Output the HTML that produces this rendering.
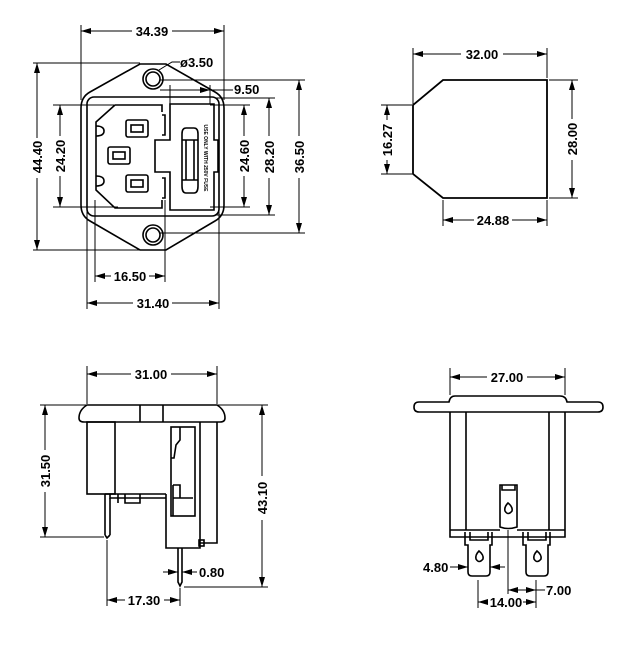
<!DOCTYPE html>
<html><head><meta charset="utf-8"><style>
html,body{margin:0;padding:0;background:#fff;}
svg{display:block;}
text{font-family:"Liberation Sans",sans-serif;font-size:13px;font-weight:bold;fill:#000;}
</style></head><body>
<svg width="640" height="652" viewBox="0 0 640 652" xmlns="http://www.w3.org/2000/svg">
<defs>
<marker id="a" viewBox="0 0 10 6" refX="10" refY="3" markerWidth="10" markerHeight="6" orient="auto-start-reverse" markerUnits="userSpaceOnUse"><path d="M0,0L10,3L0,6z" fill="#000"/></marker>
</defs>
<g fill="none" stroke="#000" stroke-width="1.6">
<!-- ===== TOP LEFT ===== -->
<path d="M140,64 L166,64 L215,92 Q224,97 224,108 L224,205 Q224,216 215,221 L166,250 L140,250 L90,221 Q81,216 81,205 L81,108 Q81,97 90,92 Z"/>
<circle cx="153" cy="79" r="10"/><circle cx="153" cy="79" r="7"/>
<circle cx="153" cy="235" r="10"/><circle cx="153" cy="235" r="7"/>
<rect x="87" y="97" width="132" height="119" rx="7"/>
<path d="M115,105 L162,105 L162,112 M115,105 L96,122 L96,190 L115,208 L162,208 L162,200"/>
<path d="M96,126 Q104,126 104,131 Q104,136 96,136 M96,176 Q104,176 104,181 Q104,186 96,186"/>
<path d="M162,115 L165,115 L165,135 L162,135 M162,178 L165,178 L165,198 L162,198"/>
<rect x="126" y="120" width="22" height="17" rx="2"/><rect x="131" y="125" width="12" height="7"/>
<rect x="108" y="147" width="22" height="17" rx="2"/><rect x="113" y="152" width="12" height="7"/>
<rect x="126" y="175" width="22" height="17" rx="2"/><rect x="131" y="180" width="12" height="7"/>
<path d="M170,104 L214,104 L214,140 L218,140 L218,172 L214,172 L214,210 L170,210 L170,172 L155,172 L155,140 L170,140 Z"/>
<path d="M186,128 L194,128 Q198,128 198,134 L198,186 Q198,193 194,193 L186,193 Q182,193 182,186 L182,134 Q182,128 186,128 Z"/>
<path d="M182,140 L198,140 M182,180 L198,180 M186,140 L186,180 M194,140 L194,180"/>
</g>
<text transform="translate(204,158) rotate(90)" text-anchor="middle" style="font-size:5px;font-weight:bold">USE ONLY WITH 250V FUSE</text>
<g fill="none" stroke="#000" stroke-width="1">
<path d="M81,25 L81,100 M224,25 L224,100"/>
<path d="M33,63 L140,63 M33,250 L140,250"/>
<path d="M53,105 L118,105 M53,207 L118,207"/>
<path d="M95,200 L95,282 M165,200 L165,282 M87,210 L87,309 M219,210 L219,309"/>
<path d="M160,90 L233,90 M170,85 L170,104 M210,85 L210,104"/>
<path d="M210,105 L250,105 M210,207 L250,207 M215,98 L275,98 M215,215 L275,215 M160,80 L305,80 M160,233 L305,233"/>
<path d="M159,70 L172,62 L180,62"/>
<path d="M81,31 L132,31 M172,31 L224,31" marker-start="url(#a)" marker-end="url(#a)"/>
<path d="M37,63 L37,138 M37,178 L37,250" marker-start="url(#a)" marker-end="url(#a)"/>
<path d="M60,105 L60,136 M60,176 L60,207" marker-start="url(#a)" marker-end="url(#a)"/>
<path d="M95,276 L111,276 M149,276 L165,276" marker-start="url(#a)" marker-end="url(#a)"/>
<path d="M87,303 L133,303 M172,303 L219,303" marker-start="url(#a)" marker-end="url(#a)"/>
<path d="M170,90 L210,90" marker-end="url(#a)"/>
<path d="M244,105 L244,136 M244,176 L244,207" marker-start="url(#a)" marker-end="url(#a)"/>
<path d="M269,98 L269,136 M269,178 L269,215" marker-start="url(#a)" marker-end="url(#a)"/>
<path d="M299,80 L299,136 M299,178 L299,233" marker-start="url(#a)" marker-end="url(#a)"/>
</g>
<text x="152" y="36" text-anchor="middle">34.39</text>
<text x="180" y="67">ø3.50</text>
<text x="234" y="94">9.50</text>
<text x="130" y="281" text-anchor="middle">16.50</text>
<text x="153" y="308" text-anchor="middle">31.40</text>
<text transform="translate(42,157) rotate(-90)" text-anchor="middle">44.40</text>
<text transform="translate(65,156) rotate(-90)" text-anchor="middle">24.20</text>
<text transform="translate(249,156) rotate(-90)" text-anchor="middle">24.60</text>
<text transform="translate(274,157) rotate(-90)" text-anchor="middle">28.20</text>
<text transform="translate(304,157) rotate(-90)" text-anchor="middle">36.50</text>

<!-- ===== TOP RIGHT ===== -->
<path d="M443,80 L547,80 L547,198 L443,198 L413,174 L413,105 Z" fill="none" stroke="#000" stroke-width="1.8"/>
<g fill="none" stroke="#000" stroke-width="1">
<path d="M413,48 L413,104 M547,48 L547,78 M547,200 L547,226 M443,200 L443,226"/>
<path d="M381,105 L412,105 M381,174 L412,174 M549,80 L578,80 M549,198 L578,198"/>
<path d="M413,54 L461,54 M503,54 L547,54" marker-start="url(#a)" marker-end="url(#a)"/>
<path d="M387,105 L387,120 M387,160 L387,174" marker-start="url(#a)" marker-end="url(#a)"/>
<path d="M572,80 L572,119 M572,160 L572,198" marker-start="url(#a)" marker-end="url(#a)"/>
<path d="M443,220 L474,220 M512,220 L547,220" marker-start="url(#a)" marker-end="url(#a)"/>
</g>
<text x="482" y="59" text-anchor="middle">32.00</text>
<text x="493" y="225" text-anchor="middle">24.88</text>
<text transform="translate(392,140) rotate(-90)" text-anchor="middle">16.27</text>
<text transform="translate(577,139) rotate(-90)" text-anchor="middle">28.00</text>

<!-- ===== BOTTOM LEFT ===== -->
<g fill="none" stroke="#000" stroke-width="1.6">
<path d="M87,405 L217,405 Q225,410 225,418 Q225,422 220,422 L84,422 Q79,422 79,418 Q79,410 87,405 Z"/>
<path d="M140,405 L140,422 M163,405 L163,422"/>
<rect x="87" y="422" width="28" height="72"/>
<path d="M217,422 L217,543 L200,543 M200,422 L200,546 M166,494 L166,548 L200,548 L200,543"/>
<rect x="171" y="427" width="24" height="89"/>
<path d="M171,458 L174,458 L176,445 L180,440 L180,427"/>
<path d="M173,485 L180,485 L180,498 M173,485 L173,516 M173,498 L193,498"/>
<rect x="199" y="540" width="5" height="6"/>
<path d="M105,494 L166,494 M110,494 L110,498 L166,498 M118,494 L118,503 M125,494 L125,503 L140,503 L140,494"/>
<path d="M105,494 L105,535 M110,498 L110,535 M105,535 L107,538 L110,535"/>
<path d="M178,548 L178,582 L180,586 L182,582 L182,548"/>
</g>
<g fill="none" stroke="#000" stroke-width="1">
<path d="M87,366 L87,404 M217,366 L217,404"/>
<path d="M40,405 L87,405 M217,405 L268,405 M40,537 L104,537 M184,587 L268,587"/>
<path d="M107,540 L107,606 M180,588 L180,606"/>
<path d="M87,374 L131,374 M171,374 L217,374" marker-start="url(#a)" marker-end="url(#a)"/>
<path d="M45,405 L45,450 M45,492 L45,537" marker-start="url(#a)" marker-end="url(#a)"/>
<path d="M262,405 L262,476 M262,520 L262,587" marker-start="url(#a)" marker-end="url(#a)"/>
<path d="M107,600 L125,600 M164,600 L180,600" marker-start="url(#a)" marker-end="url(#a)"/>
<path d="M163,572 L178,572" marker-end="url(#a)"/>
<path d="M197,572 L182,572" marker-end="url(#a)"/>
</g>
<text x="151" y="379" text-anchor="middle">31.00</text>
<text x="199" y="577">0.80</text>
<text x="144" y="605" text-anchor="middle">17.30</text>
<text transform="translate(50,471) rotate(-90)" text-anchor="middle">31.50</text>
<text transform="translate(267,498) rotate(-90)" text-anchor="middle">43.10</text>

<!-- ===== BOTTOM RIGHT ===== -->
<g fill="none" stroke="#000" stroke-width="1.6">
<path d="M455,396 L560,396 Q566,396 567,402 L598,402 Q603,402 603,407 Q603,412 598,412 L419,412 Q414,412 414,407 Q414,402 419,402 L449,402 Q450,396 455,396 Z"/>
<path d="M450,412 L450,537 L565,537 L565,412 M466,412 L466,530 M549,412 L549,530 M450,530 L500,530 M517,530 L565,530"/>
<path d="M500,527 L500,485 L517,485 L517,527 Q508,530 500,527 Z M502,485 L502,490 L515,490 L515,485"/>
<path d="M508,503 Q504,507 505,511 Q508,516 512,511 Q513,507 508,503 Z"/>
<path d="M465,532 L465,545 L468,545 L468,572 Q468,576 472,576 L486,576 Q490,576 490,572 L490,545 L492,545 L492,532"/>
<path d="M470,532 L470,540 L488,540 L488,532"/>
<path d="M479,551 Q475,555 476,559 Q479,564 483,559 Q484,555 479,551 Z"/>
<path d="M523,532 L523,545 L526,545 L526,572 Q526,576 530,576 L544,576 Q548,576 548,572 L548,545 L550,545 L550,532"/>
<path d="M528,532 L528,540 L546,540 L546,532"/>
<path d="M537,551 Q533,555 534,559 Q537,564 541,559 Q542,555 537,551 Z"/>
</g>
<g fill="none" stroke="#000" stroke-width="1">
<path d="M450,368 L450,395 M565,368 L565,395"/>
<path d="M508,530 L508,594 M478,580 L478,608 M536,580 L536,608"/>
<path d="M450,377 L487,377 M527,377 L565,377" marker-start="url(#a)" marker-end="url(#a)"/>
<path d="M450,567 L468,567" marker-end="url(#a)"/>
<path d="M505,567 L490,567" marker-end="url(#a)"/>
<path d="M508,590 L536,590" marker-start="url(#a)" marker-end="url(#a)"/>
<path d="M536,590 L545,590"/>
<path d="M478,602 L488,602 M523,602 L536,602" marker-start="url(#a)" marker-end="url(#a)"/>
</g>
<text x="507" y="382" text-anchor="middle">27.00</text>
<text x="423" y="572">4.80</text>
<text x="546" y="595">7.00</text>
<text x="506" y="607" text-anchor="middle">14.00</text>
</svg>
</body></html>
